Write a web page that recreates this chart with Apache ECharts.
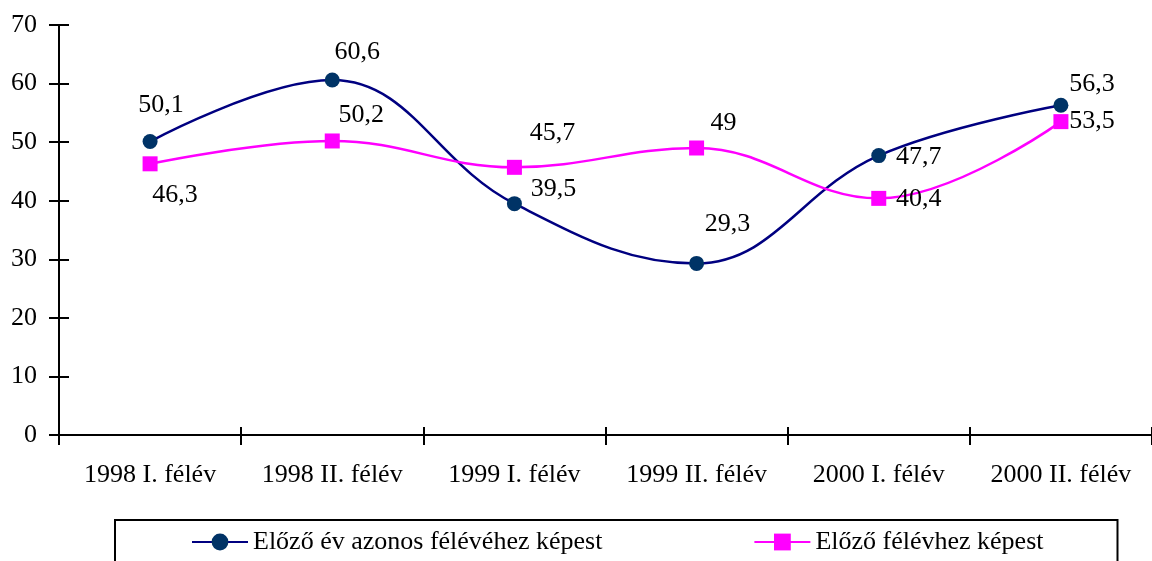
<!DOCTYPE html>
<html>
<head>
<meta charset="utf-8">
<style>
  html, body { margin: 0; padding: 0; background: #fff; }
  #chart { width: 1152px; height: 561px; }
</style>
<script src="https://cdn.jsdelivr.net/npm/echarts@6/dist/echarts.min.js"></script>
</head>
<body>
<div id="chart"></div>
<script>
// categories
var categories = ['1998 I. félév', '1998 II. félév', '1999 I. félév', '1999 II. félév', '2000 I. félév', '2000 II. félév'];
// series values
var sameHalfPrevYear = [50.1, 60.6, 39.5, 29.3, 47.7, 56.3];
var prevHalfYear = [46.3, 50.2, 45.7, 49, 40.4, 53.5];
var seriesNames = ['Előző év azonos félévéhez képest', 'Előző félévhez képest'];
// y axis ticks
var yMin = 0, yMax = 70, yStep = 10;

// label placement (px offsets from the marker)
var offsets1 = [[11, -36], [25, -28], [39, -14], [31, -39], [40, 2], [31, -21]];
var offsets2 = [[25, 31], [29, -26], [38, -34], [27, -25], [40, 1], [31, 0]];

var FONT = '"Liberation Serif", "Times New Roman", serif';

function fmt(v) {
  return String(v).replace('.', ',');
}

function eachItem(arr, fn) {
  for (var i = 0; i < arr.length; i++) fn(i, arr[i]);
}

function buildData(values, offsets) {
  var out = [];
  eachItem(values, function (i, v) {
    out.push({
      value: v,
      label: { offset: offsets[i] }
    });
  });
  return out;
}

function labelStyle() {
  return {
    show: true,
    position: 'inside',
    color: '#000',
    fontFamily: FONT,
    fontSize: 26,
    formatter: function (p) { return fmt(p.value); }
  };
}

var tickLine = { color: '#000', width: 2 };
var gridBox = { left: 59, top: 25, width: 1096, height: 410 };

var option = {
  animation: false,
  backgroundColor: '#fff',
  textStyle: { fontFamily: FONT },
  // second grid only carries the inner half of the crossing tick marks
  grid: [gridBox, gridBox],
  legend: {
    left: 115,
    top: 520,
    padding: [9, 74, 30, 76],
    borderColor: '#000',
    borderWidth: 2,
    itemWidth: 56,
    itemHeight: 21,
    itemGap: 151,
    textStyle: { fontFamily: FONT, fontSize: 26, color: '#000' },
    data: seriesNames
  },
  xAxis: [{
    type: 'category',
    gridIndex: 0,
    data: categories,
    axisLine: { lineStyle: tickLine },
    axisTick: { show: true, inside: false, length: 10, lineStyle: tickLine },
    axisLabel: { color: '#000', fontFamily: FONT, fontSize: 26, margin: 27, interval: 0 },
    splitLine: { show: false }
  }, {
    type: 'category',
    gridIndex: 1,
    data: categories,
    axisLine: { show: false },
    axisTick: { show: true, inside: true, length: 8, lineStyle: tickLine },
    axisLabel: { show: false },
    splitLine: { show: false }
  }],
  yAxis: [{
    type: 'value',
    gridIndex: 0,
    min: yMin,
    max: yMax,
    interval: yStep,
    axisLine: { show: true, lineStyle: tickLine },
    axisTick: { show: true, inside: false, length: 10, lineStyle: tickLine },
    axisLabel: { color: '#000', fontFamily: FONT, fontSize: 26, margin: 22 },
    splitLine: { show: false }
  }, {
    type: 'value',
    gridIndex: 1,
    min: yMin,
    max: yMax,
    interval: yStep,
    axisLine: { show: false },
    axisTick: { show: true, inside: true, length: 10, lineStyle: tickLine },
    axisLabel: { show: false },
    splitLine: { show: false }
  }],
  series: [{
    name: seriesNames[0],
    type: 'line',
    smooth: 0.4,
    data: buildData(sameHalfPrevYear, offsets1),
    symbol: 'circle',
    symbolSize: 15,
    lineStyle: { color: '#000080', width: 2.5 },
    itemStyle: { color: '#003366' },
    label: labelStyle()
  }, {
    name: seriesNames[1],
    type: 'line',
    smooth: 0.4,
    data: buildData(prevHalfYear, offsets2),
    symbol: 'rect',
    symbolSize: 15,
    lineStyle: { color: '#ff00ff', width: 2.5 },
    itemStyle: { color: '#ff00ff' },
    label: labelStyle()
  }]
};

var myChart = echarts.init(document.getElementById('chart'));
myChart.setOption(option);
</script>
</body>
</html>
